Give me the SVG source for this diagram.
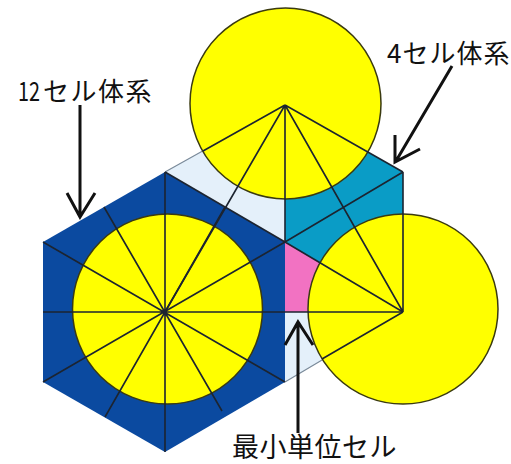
<svg xmlns="http://www.w3.org/2000/svg" width="511" height="464" viewBox="0 0 511 464">
<style>
.c{fill:#ffff00;stroke:#3a3a10;stroke-width:1.5}
.l{stroke:#1c2430;stroke-width:1.6;fill:none}
.a{stroke:#111;stroke-width:3;fill:none}
text{font-family:"Noto Sans CJK JP","Liberation Sans",sans-serif;font-size:26px;fill:#111}
</style>
<rect width="511" height="464" fill="#fff"/>
<g id="cells">
<polygon points="165,172 43,242 43,382 165,452 285,382 285,242" fill="#0b4aa0"/>
<polygon points="165,172 285,105 285,242" fill="#e4f0fa"/>
<polygon points="285,105 403,172 403,312 285,242" fill="#0a9cc6"/>
<polygon points="285,242 403,312 285,312" fill="#f272c2"/>
<polygon points="285,312 403,312 285,382" fill="#e4f0fa"/>
<path d="M165,172 L285,105 M285,382 L403,312" stroke="#7a8a9a" stroke-width="1.2" fill="none"/>
</g>
<g id="circles">
<circle class="c" cx="167.500" cy="309" r="95"/>
<circle class="c" cx="285.500" cy="103.500" r="95.500"/>
<circle class="c" cx="403" cy="309" r="95"/>
</g>
<g id="connectors">
<path class="l" d="M43,312H403M165,172V452M43,242L285,382M43,382L285,242M104,207L222,411M225,207L105,417"/>
<path class="l" d="M285,105L165,312M285,105L403,312M285,105V242M285,105L203,151M285,105L403,172M285,242L403,172M403,172V312M285,242L403,312M403,312L322,359"/>
<path class="l" d="M165,172L285,242"/>
</g>
<g id="arrows">
<path class="a" d="M80,105V217M67,193L80,217L95,193"/>
<path class="a" d="M452,66L396,161M395,135L395,162L420,149"/>
<path class="a" d="M298,433V322M285,345L298,322L313,345"/>
</g>
<g id="labels">
<text x="18" y="101" textLength="22" lengthAdjust="spacingAndGlyphs">12</text>
<text x="43" y="101" letter-spacing="1.500">セル体系</text>
<text x="387" y="63" letter-spacing="1">4セル体系</text>
<text x="232" y="457" style="font-size:27px" letter-spacing="0.500">最小単位セル</text>
</g>
</svg>
